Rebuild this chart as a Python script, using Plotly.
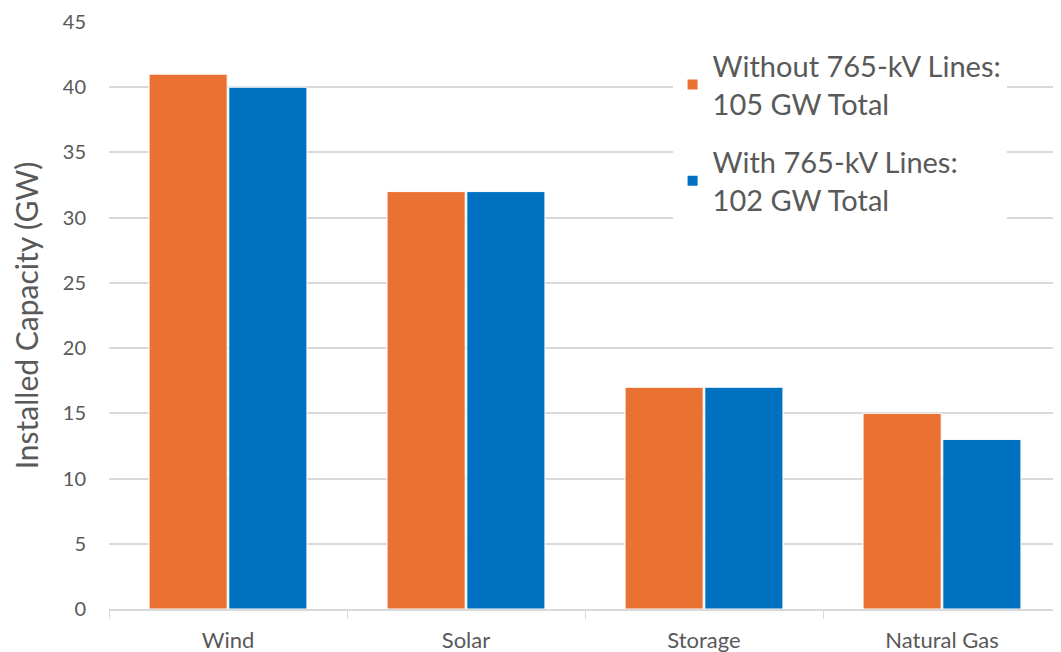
import plotly.graph_objects as go

categories = ["Wind", "Solar", "Storage", "Natural Gas"]
without_765 = [41, 32, 17, 15]
with_765 = [40, 32, 17, 13]
series_names = ["Without 765-kV Lines:<br>105 GW Total", "With 765-kV Lines:<br>102 GW Total"]
y_ticks = [0, 5, 10, 15, 20, 25, 30, 35, 40, 45]

FONT = "Lato"
TXT = "#595959"
GRID = "#D9D9D9"

fig = go.Figure()
fig.add_trace(go.Bar(x=categories, y=without_765, name=series_names[0], legendgroup="a",
                     marker=dict(color="#E97132", line=dict(color="white", width=1))))
fig.add_trace(go.Bar(x=categories, y=with_765, name=series_names[1], legendgroup="b",
                     marker=dict(color="#0070C0", line=dict(color="white", width=1))))

fig.update_layout(
    width=1053, height=644,
    margin=dict(l=101, r=0, t=14, b=43),
    paper_bgcolor="white", plot_bgcolor="white",
    barmode="group", bargap=0.33, bargroupgap=0.02,
    font=dict(family=FONT, color=TXT),
    legend=dict(x=0.592, y=0.969, xanchor="left", yanchor="top",
                bgcolor="white", font=dict(size=29, color=TXT, family=FONT),
                tracegroupgap=18, itemsizing="constant"),
    xaxis=dict(showgrid=False, showline=True, linecolor=GRID, linewidth=1.5,
               ticks="outside", tickson="boundaries", ticklen=8, tickcolor=GRID,
               ticklabelstandoff=11,
               tickfont=dict(size=22, color=TXT, family=FONT)),
    yaxis=dict(range=[0, 45], tickvals=y_ticks, showgrid=True, gridcolor=GRID, gridwidth=1.5,
               zeroline=False, showline=False, ticks="",
               tickfont=dict(size=20, color=TXT, family=FONT), ticklabelstandoff=22,
               title=dict(text="Installed Capacity (GW)", font=dict(size=30, color=TXT, family=FONT), standoff=26)),
)

fig.write_html("out.html")
